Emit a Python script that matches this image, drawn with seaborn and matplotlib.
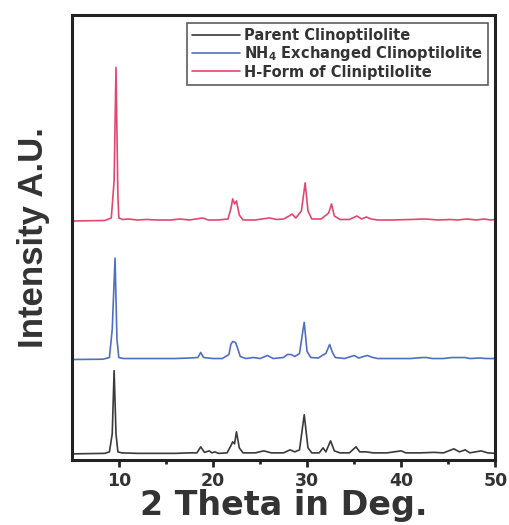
import numpy as np
import pandas as pd
import matplotlib
matplotlib.use('Agg')
import matplotlib.pyplot as plt
import seaborn as sns

# ==================== DATA ====================
# 2 theta positions and intensities (a.u., height above each trace's baseline)
parent_2theta = [5.0, 8.5, 9.0, 9.3, 9.5, 9.7, 9.9, 10.3, 12.0, 14.0, 16.0, 17.5,
                 18.3, 18.7, 19.1, 19.6, 19.9, 20.2, 20.6, 21.5, 21.9, 22.1, 22.3,
                 22.5, 22.8, 23.2, 24.5, 25.4, 26.2, 27.5, 28.2, 28.7, 29.2, 29.7,
                 30.1, 30.5, 31.3, 31.7, 32.0, 32.5, 32.9, 33.5, 34.5, 35.2, 35.6,
                 36.3, 37.0, 38.5, 40.0, 40.5, 42.0, 43.5, 44.5, 45.6, 46.2, 46.8,
                 47.3, 48.5, 49.2, 50.0]
parent_int = [0, 0.5, 2, 20, 83, 20, 2, 1, 0.5, 0.5, 0.5, 1,
              1, 7, 1.5, 3, 1, 2, 0.5, 1, 8, 12, 10,
              22, 6, 1, 1, 3, 1, 1, 4, 2, 4, 39,
              6, 1, 1, 6, 2, 13, 3, 1, 1, 7, 2,
              2, 1, 1, 3, 1, 1, 1.5, 1, 5, 2, 4,
              1, 3, 1, 0.5]

nh4_2theta = [5.0, 8.3, 9.0, 9.3, 9.6, 9.8, 10.0, 10.5, 12.0, 14.0, 16.0, 17.5,
              18.4, 18.7, 19.0, 20.0, 21.0, 21.7, 21.9, 22.1, 22.4, 22.6, 22.9,
              23.5, 24.3, 25.0, 25.8, 26.4, 27.5, 27.9, 28.3, 28.7, 29.2, 29.5,
              29.7, 30.0, 30.4, 31.2, 31.6, 32.0, 32.4, 32.7, 33.0, 34.0, 35.0,
              35.5, 36.0, 36.4, 37.0, 37.5, 39.0, 41.0, 42.3, 42.7, 43.3, 44.5,
              45.4, 45.9, 46.8, 47.3, 48.4, 49.0, 50.0]
nh4_int = [0, 0.3, 2, 30, 101, 20, 2, 1, 1, 1, 1, 1.5,
           2, 7, 2, 1, 1, 5, 15, 18, 17, 12, 3,
           1, 2, 1, 4, 1, 2, 5, 5, 3, 6, 25,
           37, 8, 2, 1.5, 4, 6, 15, 7, 2, 1, 4,
           1.5, 3, 4, 2, 1, 1, 1, 2, 2, 1, 1,
           2, 2, 2, 1, 1.5, 1, 1]

hform_2theta = [5.0, 8.5, 9.2, 9.5, 9.7, 9.9, 10.0, 10.4, 11.0, 12.0, 13.0, 14.0,
                15.5, 16.5, 17.5, 18.9, 19.5, 20.5, 21.6, 21.9, 22.1, 22.3, 22.5,
                22.8, 23.2, 24.5, 25.2, 26.0, 26.8, 27.5, 28.1, 28.4, 28.8, 29.4,
                29.8, 30.1, 30.5, 31.5, 32.3, 32.6, 32.9, 33.5, 34.5, 35.3, 35.8,
                36.3, 36.8, 37.5, 39.0, 41.0, 42.5, 44.0, 45.2, 46.0, 47.0, 48.0,
                48.8, 49.5, 50.0]
hform_int = [0, 0.5, 3, 40, 153, 25, 3, 1.5, 2, 1, 1.5, 1,
             1, 2, 1, 3, 1, 1, 2, 12, 22, 17, 20,
             6, 1, 1, 2, 3, 1.5, 2, 5, 7, 3, 10,
             38, 10, 2, 2, 8, 17, 5, 1.5, 1.5, 5, 2,
             4, 2, 1, 1, 1.5, 2, 1, 1.5, 1, 2, 1,
             2, 1, 1.5]

sample_names = ['Parent Clinoptilolite',
                'NH$_4$ Exchanged Clinoptilolite',
                'H-Form of Cliniptilolite']
# vertical stacking offsets of the three patterns (a.u.)
offsets = [6, 100, 238]
colors = ['#3a3a3a', '#4f6fc0', '#e2486f']

# ==================== BUILD LONG-FORM TABLE ====================
frames = []
for name, xs, ys, off in zip(sample_names,
                             [parent_2theta, nh4_2theta, hform_2theta],
                             [parent_int, nh4_int, hform_int],
                             offsets):
    frames.append(pd.DataFrame({'2theta': xs,
                                'intensity': np.array(ys, dtype=float) + off,
                                'sample': name}))
df = pd.concat(frames, ignore_index=True)

# ==================== PLOT ====================
sns.set_style('ticks')
plt.rcParams['font.family'] = ['DejaVu Sans']
plt.rcParams['font.weight'] = 'bold'
plt.rcParams['mathtext.default'] = 'bf'

fig = plt.figure(figsize=(5.09, 5.25), dpi=100)
ax = fig.add_axes([0.141, 0.124, 0.832, 0.847])

sns.lineplot(data=df, x='2theta', y='intensity', hue='sample',
             hue_order=sample_names, palette=colors, estimator=None,
             linewidth=1.2, ax=ax)

ax.set_xlim(5, 50)
ax.set_ylim(0, 443)
ax.set_xticks([10, 20, 30, 40, 50])
ax.set_xticks([15, 25, 35, 45], minor=True)
ax.set_yticks([])
ax.tick_params(axis='x', which='major', direction='out', length=5, width=2,
               labelsize=12.5, pad=4, labelcolor='#333333')
ax.tick_params(axis='x', which='minor', direction='out', length=3, width=2)
for lab in ax.get_xticklabels():
    lab.set_fontweight('bold')
for sp in ax.spines.values():
    sp.set_linewidth(2.2)
    sp.set_color('#222222')

ax.set_xlabel('2 Theta in Deg.', fontsize=24, fontweight='bold',
              color='#333333', labelpad=-1)
ax.set_ylabel('Intensity A.U.', fontsize=25, fontweight='bold',
              color='#333333', labelpad=16, family='Liberation Sans')

leg = ax.legend(loc='upper right', fontsize=10.5, frameon=True, fancybox=False,
                handlelength=3.3, handletextpad=0.3, borderaxespad=0.5,
                labelspacing=0.1, borderpad=0.35, title=None)
leg.get_frame().set_edgecolor('#333333')
leg.get_frame().set_linewidth(1.2)
for t in leg.get_texts():
    t.set_fontweight('bold')
    t.set_color('#333333')

fig.savefig('out.png', dpi=100)
